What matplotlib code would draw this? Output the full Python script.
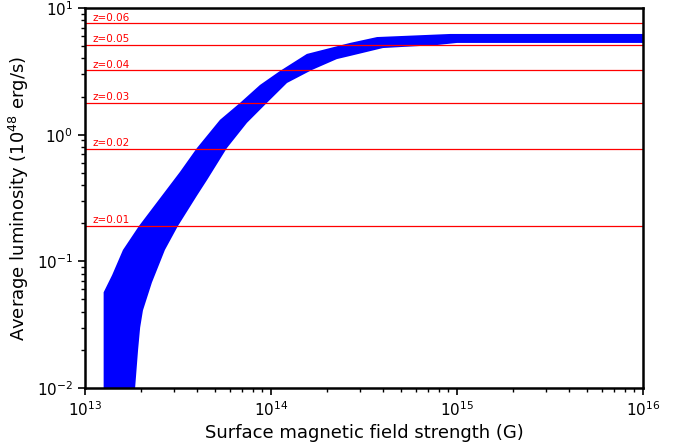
import matplotlib
matplotlib.use("Agg")
import matplotlib.pyplot as plt

# Upper edge of the band: B (G), L (1e48 erg/s)
b_upper = [1.26e13, 1.40e13, 1.60e13, 1.95e13, 3.24e13, 4.0e13, 5.32e13,
           6.81e13, 8.73e13, 1.117e14, 1.56e14, 2.66e14, 3.72e14, 9.2e14, 1.0e16]
l_upper = [0.057, 0.078, 0.123, 0.19, 0.508, 0.785, 1.31,
           1.78, 2.47, 3.18, 4.34, 5.30, 5.90, 6.24, 6.24]

# Lower edge of the band
b_lower = [1.26e13, 1.84e13, 1.86e13, 1.93e13, 1.98e13, 2.05e13, 2.29e13,
           2.69e13, 3.16e13, 4.0e13, 4.53e13, 5.8e13, 7.43e13, 9.5e13,
           1.22e14, 1.66e14, 2.26e14, 2.66e14, 4.0e14, 7.8e14, 1.0e15, 1.0e16]
l_lower = [0.0001, 0.005, 0.010, 0.020, 0.030, 0.041, 0.068,
           0.123, 0.19, 0.33, 0.438, 0.785, 1.24, 1.78,
           2.56, 3.24, 3.95, 4.18, 4.83, 5.10, 5.30, 5.30]

# Luminosity thresholds per redshift
z_labels = ["z=0.01", "z=0.02", "z=0.03", "z=0.04", "z=0.05", "z=0.06"]
z_lum = [0.19, 0.77, 1.77, 3.22, 5.15, 7.55]

fig = plt.figure(figsize=(6.88, 4.45), dpi=100)
ax = fig.add_axes([0.1235, 0.128, 0.811, 0.854])

poly_x = b_upper + b_lower[::-1]
poly_y = l_upper + l_lower[::-1]
ax.fill(poly_x, poly_y, color="blue", lw=0)

for lab, lv in zip(z_labels, z_lum):
    ax.axhline(lv, color="red", lw=0.9)
    ax.text(1.10e13, lv * 1.015, lab, color="red", fontsize=7.5, va="bottom", ha="left")

ax.set_xscale("log")
ax.set_yscale("log")
ax.set_xlim(1e13, 1e16)
ax.set_ylim(1e-2, 1e1)

for s in ax.spines.values():
    s.set_linewidth(1.8)
ax.tick_params(which="major", length=5, width=1.2, labelsize=11)
ax.tick_params(which="minor", length=3, width=1)

ax.set_xlabel("Surface magnetic field strength (G)", fontsize=13)
ax.set_ylabel(r"Average luminosity ($10^{48}$ erg/s)", fontsize=13)

fig.savefig("out.png", dpi=100)
